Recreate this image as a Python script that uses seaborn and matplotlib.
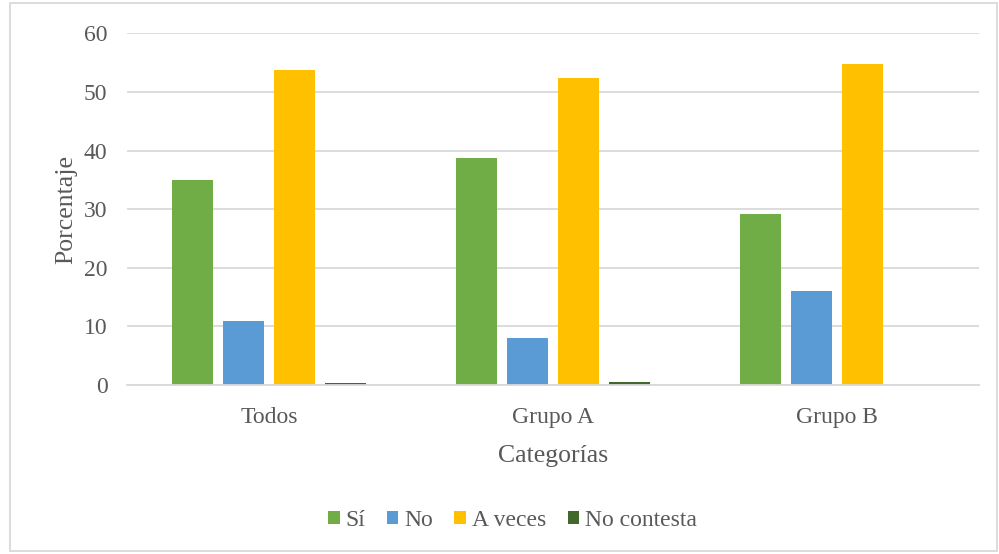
import pandas as pd
import matplotlib.pyplot as plt
import seaborn as sns
from matplotlib.patches import Rectangle, Patch

categories = ['Todos', 'Grupo A', 'Grupo B']
series = ['Sí', 'No', 'A veces', 'No contesta']
si = [35.0, 38.8, 29.1]
no = [10.9, 8.1, 16.1]
a_veces = [53.7, 52.3, 54.7]
no_contesta = [0.4, 0.6, 0.0]
colors = ['#70AD47', '#5B9BD5', '#FFC000', '#43682B']

df = pd.DataFrame({
    'Categoría': categories * 4,
    'Respuesta': [s for s in series for _ in categories],
    'Porcentaje': si + no + a_veces + no_contesta,
})

sns.set_style('white')
plt.rcParams['font.family'] = ['Liberation Serif', 'DejaVu Serif']
text_color = '#595959'

fig = plt.figure(figsize=(9.99, 5.54), dpi=100)
ax = fig.add_axes([0.127, 0.305, 0.853, 0.635])

sns.barplot(data=df, x='Categoría', y='Porcentaje', hue='Respuesta',
            palette=colors, width=0.72, gap=0.2, ax=ax, legend=False,
            saturation=1, linewidth=0)

ax.set_ylim(0, 60)
ax.set_yticks(range(0, 61, 10))
ax.yaxis.grid(True, color='#D9D9D9', linewidth=1.3)
ax.set_axisbelow(True)
for s in ['top', 'right', 'left']:
    ax.spines[s].set_visible(False)
ax.spines['bottom'].set_color('#D9D9D9')
ax.spines['bottom'].set_linewidth(1.3)
ax.tick_params(axis='both', length=0, labelsize=17, colors=text_color)
ax.tick_params(axis='x', pad=16)
ax.tick_params(axis='y', pad=14)
ax.set_xlabel('Categorías', fontsize=18.5, color=text_color, labelpad=12)
ax.set_ylabel('Porcentaje', fontsize=18.5, color=text_color, labelpad=5)

handles = [Patch(facecolor=c, edgecolor='none') for c in colors]
fig.legend(handles, series, loc='center', bbox_to_anchor=(0.513, 0.061),
           ncol=4, frameon=False, fontsize=17, labelcolor=text_color,
           handlelength=0.5, handleheight=0.5, handletextpad=0.25,
           columnspacing=0.9)

fig.patches.append(Rectangle((0.01, 0.005), 0.988, 0.99, transform=fig.transFigure,
                             fill=False, edgecolor='#D9D9D9', linewidth=1.3))

fig.savefig('out.png', dpi=100)
